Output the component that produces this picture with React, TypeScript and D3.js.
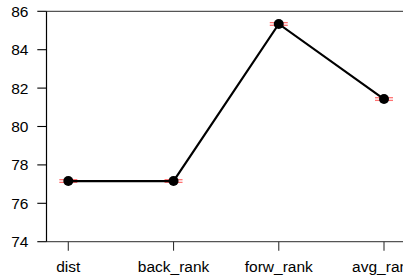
import React from 'react';
import * as d3 from 'd3';

const categories = ['dist', 'back_rank', 'forw_rank', 'avg_rank'];
const means = [77.16, 77.16, 85.34, 81.43];
const errors = [0.07, 0.07, 0.07, 0.07];
const yTicks = [74, 76, 78, 80, 82, 84, 86];

export default function App() {
    const width = 403;
    const height = 277;

    const left = 46.5;
    const top = 11.3;
    const bottom = 241.7;

    const x = d3.scalePoint<string>().domain(categories).range([68.3, 384]);
    const y = d3.scaleLinear().domain([74, 86]).range([bottom, top]);

    const line = d3
        .line<number>()
        .x((_, i) => x(categories[i]) as number)
        .y((d) => y(d));

    const font = 'Liberation Sans, Arial, sans-serif';

    return (
        <svg
            width={width}
            height={height}
            style={{ position: 'absolute', left: 0, top: 0, background: '#fff' }}
        >
            {/* frame */}
            <line x1={left} x2={width + 5} y1={top} y2={top} stroke="#555" strokeWidth={1.2} />
            <line x1={left} x2={width + 5} y1={bottom} y2={bottom} stroke="#555" strokeWidth={1.2} />
            <line x1={left} x2={left} y1={top} y2={bottom} stroke="#000" strokeWidth={1.2} />

            {/* y axis */}
            {yTicks.map((t) => (
                <g key={t}>
                    <line x1={37.3} x2={left} y1={y(t)} y2={y(t)} stroke="#000" strokeWidth={1.1} />
                    <text
                        x={28.5}
                        y={y(t)}
                        textAnchor="end"
                        dominantBaseline="central"
                        fontFamily={font}
                        fontSize={15.5}
                        fill="#000"
                    >
                        {t}
                    </text>
                </g>
            ))}

            {/* x axis */}
            {categories.map((c) => (
                <g key={c}>
                    <line x1={x(c)} x2={x(c)} y1={bottom} y2={bottom + 9} stroke="#333" strokeWidth={1.1} />
                    <text
                        x={x(c)}
                        y={272}
                        textAnchor="middle"
                        fontFamily={font}
                        fontSize={15.5}
                        fill="#000"
                    >
                        {c}
                    </text>
                </g>
            ))}

            {/* error bars */}
            {means.map((m, i) => {
                const cx = x(categories[i]) as number;
                return (
                    <g key={'e' + i} stroke="rgba(255,0,0,0.55)" strokeWidth={1.3}>
                        <line x1={cx - 9} x2={cx + 9} y1={y(m + errors[i])} y2={y(m + errors[i])} />
                        <line x1={cx - 9} x2={cx + 9} y1={y(m - errors[i])} y2={y(m - errors[i])} />
                        <line x1={cx} x2={cx} y1={y(m + errors[i])} y2={y(m - errors[i])} />
                    </g>
                );
            })}

            {/* line + points */}
            <path d={line(means) ?? ''} fill="none" stroke="#000" strokeWidth={2.2} />
            {means.map((m, i) => (
                <circle key={'p' + i} cx={x(categories[i])} cy={y(m)} r={5} fill="#000" />
            ))}
        </svg>
    );
}
